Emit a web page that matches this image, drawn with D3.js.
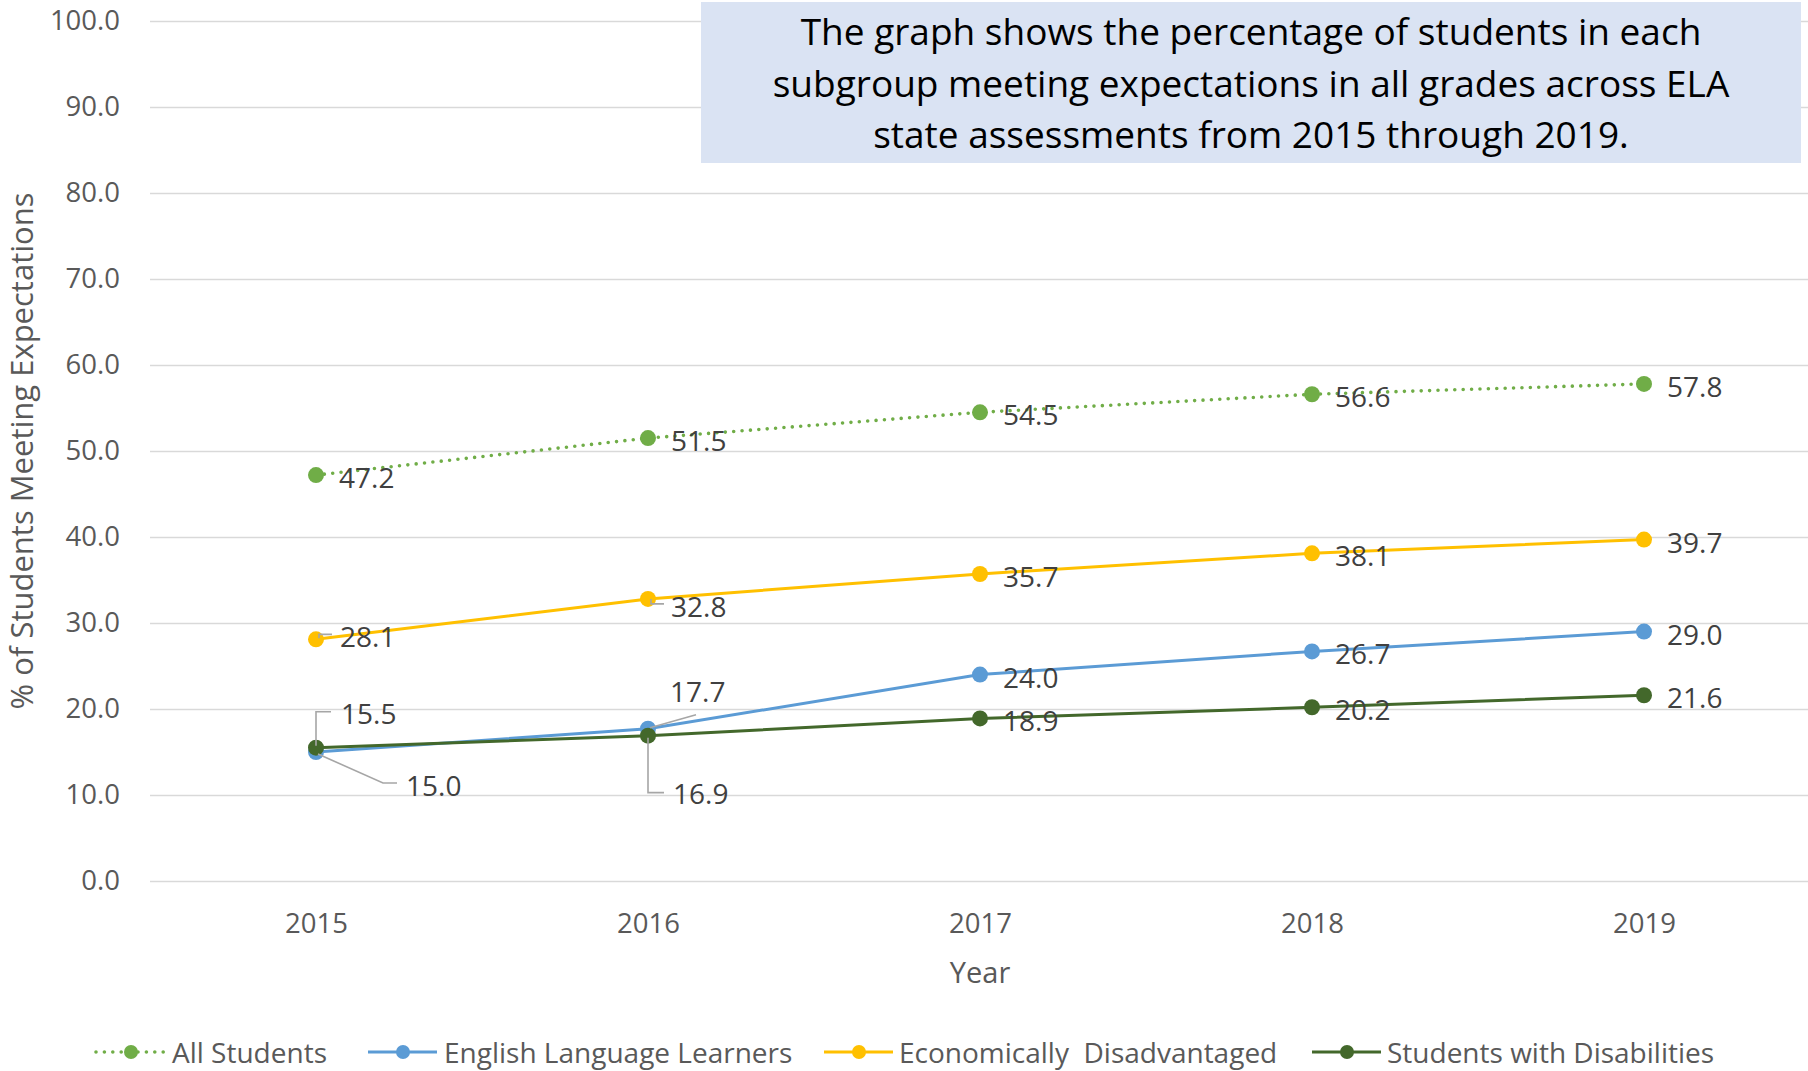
<!DOCTYPE html>
<html>
<head>
<meta charset="utf-8">
<script src="https://cdn.jsdelivr.net/npm/d3@7"></script>
<style>
  html, body { margin: 0; padding: 0; background: #fff; }
  svg { display: block; }
</style>
</head>
<body>
<svg id="chart" width="1808" height="1071"></svg>
<script>
// ---------- data ----------
const years = ["2015", "2016", "2017", "2018", "2019"];
const allStudents = [47.2, 51.5, 54.5, 56.6, 57.8];
const englishLearners = [15.0, 17.7, 24.0, 26.7, 29.0];
const econDisadvantaged = [28.1, 32.8, 35.7, 38.1, 39.7];
const withDisabilities = [15.5, 16.9, 18.9, 20.2, 21.6];
const seriesNames = ["All Students", "English Language Learners", "Economically  Disadvantaged", "Students with Disabilities"];
const yTicks = [0, 10, 20, 30, 40, 50, 60, 70, 80, 90, 100];
const titleLines = [
  "The graph shows the percentage of students in each",
  "subgroup meeting expectations in all grades across ELA",
  "state assessments from 2015 through 2019."
];
const xTitle = "Year";
const yTitle = "% of Students Meeting Expectations";

// ---------- styles ----------
const seriesValues = [allStudents, englishLearners, econDisadvantaged, withDisabilities];
const seriesColors = ["#70AD47", "#5B9BD5", "#FFC000", "#43682B"];
const seriesDotted = [true, false, false, false];
// label placement relative to marker (pixels); default right of marker
const labelDefault = { dx: 23, dy: 2 };
const labelOverrides = {
  "1-0": { dx: 90, dy: 33, leader: [[2, 2], [67, 31], [81, 31]] },
  "1-1": { dx: 22, dy: -38, leader: [[2, -1], [48, -14]] },
  "3-0": { dx: 25, dy: -35, leader: [[0, -2], [0, -36], [15, -36]] },
  "3-1": { dx: 25, dy: 57, leader: [[0, 2], [0, 57], [16, 57]] },
  "2-0": { dx: 24, dy: -3, leader: [[3, -1], [3, -5], [16, -5]] },
  "2-1": { dx: 23, dy: 7, leader: [[3, 0], [3, 5], [16, 5]] }
};

const svg = d3.select("#chart");
const W = 1808;
const plotLeft = 150, plotRight = 1810, plotTop = 21, plotBottom = 881;

const x = d3.scalePoint().domain(years).range([plotLeft, plotRight]).padding(0.5);
const y = d3.scaleLinear().domain([0, 100]).range([plotBottom, plotTop]);

const font = "'Open Sans', 'DejaVu Sans', sans-serif";

// y axis with gridlines
const yAxis = d3.axisLeft(y).tickValues(yTicks).tickFormat(d3.format(".1f"))
  .tickSize(-(W - plotLeft)).tickPadding(30);
const gy = svg.append("g").attr("transform", `translate(${plotLeft},0)`).call(yAxis);
gy.select(".domain").remove();
gy.selectAll(".tick line").attr("stroke", "#D9D9D9").attr("stroke-width", 1.6);
gy.selectAll(".tick text").attr("fill", "#595959").style("font-family", font).style("font-size", "27.5px");

// x axis
const xAxis = d3.axisBottom(x).tickSize(0).tickPadding(32);
const gx = svg.append("g").attr("transform", `translate(0,${plotBottom})`).call(xAxis);
gx.select(".domain").remove();
gx.selectAll(".tick text").attr("fill", "#595959").style("font-family", font).style("font-size", "27.5px");

// axis titles
svg.append("text").attr("x", x("2017")).attr("y", 971).attr("text-anchor", "middle")
  .attr("dominant-baseline", "central").attr("fill", "#595959")
  .style("font-family", font).style("font-size", "29px").text(xTitle);
svg.append("text").attr("transform", "translate(21,451) rotate(-90)").attr("text-anchor", "middle")
  .attr("dominant-baseline", "central").attr("fill", "#595959")
  .style("font-family", font).style("font-size", "31px").text(yTitle);

// title box
const box = svg.append("g");
box.append("rect").attr("x", 701).attr("y", 2).attr("width", 1100).attr("height", 161).attr("fill", "#DAE3F3");
box.selectAll("text").data(titleLines).join("text")
  .attr("x", 1251).attr("y", (d, i) => 45 + i * 51.5).attr("text-anchor", "middle")
  .attr("fill", "#000").style("font-family", font).style("font-size", "37px").text(d => d);

// series lines
const line = d3.line().x((d, i) => x(years[i])).y(d => y(d));
seriesValues.forEach((vals, s) => {
  svg.append("path").datum(vals).attr("d", line).attr("fill", "none")
    .attr("stroke", seriesColors[s]).attr("stroke-width", seriesDotted[s] ? 3.6 : 3)
    .attr("stroke-linecap", seriesDotted[s] ? "round" : "butt")
    .attr("stroke-dasharray", seriesDotted[s] ? "0 8.4" : null);
});

// leader lines
const leaderG = svg.append("g");
seriesValues.forEach((vals, s) => {
  vals.forEach((v, i) => {
    const o = labelOverrides[`${s}-${i}`];
    if (o && o.leader) {
      const cx = x(years[i]), cy = y(v);
      leaderG.append("polyline")
        .attr("points", o.leader.map(p => `${cx + p[0]},${cy + p[1]}`).join(" "))
        .attr("fill", "none").attr("stroke", "#A6A6A6").attr("stroke-width", 1.6);
    }
  });
});

// markers
seriesValues.forEach((vals, s) => {
  svg.append("g").selectAll("circle").data(vals).join("circle")
    .attr("cx", (d, i) => x(years[i])).attr("cy", d => y(d)).attr("r", 8)
    .attr("fill", seriesColors[s]);
});

// leader lines drawn again over markers (as in the reference)
leaderG.raise();

// data labels
seriesValues.forEach((vals, s) => {
  svg.append("g").selectAll("text").data(vals).join("text")
    .attr("x", (d, i) => x(years[i]) + (labelOverrides[`${s}-${i}`] || labelDefault).dx)
    .attr("y", (d, i) => y(d) + (labelOverrides[`${s}-${i}`] || labelDefault).dy)
    .attr("dominant-baseline", "central").attr("fill", "#404040")
    .style("font-family", font).style("font-size", "28px")
    .text(d => d3.format(".1f")(d));
});

// legend
const legendItems = [
  { lx: 96, tx: 172 },
  { lx: 368, tx: 444 },
  { lx: 824, tx: 899 },
  { lx: 1312, tx: 1387 }
];
const ly = 1052;
const lg = svg.append("g");
seriesNames.forEach((name, s) => {
  const it = legendItems[s];
  lg.append("line").attr("x1", it.lx).attr("x2", it.lx + 69).attr("y1", ly).attr("y2", ly)
    .attr("stroke", seriesColors[s]).attr("stroke-width", seriesDotted[s] ? 3.6 : 3)
    .attr("stroke-linecap", seriesDotted[s] ? "round" : "butt")
    .attr("stroke-dasharray", seriesDotted[s] ? "0 8.4" : null);
  lg.append("circle").attr("cx", it.lx + 35).attr("cy", ly).attr("r", 7).attr("fill", seriesColors[s]);
  lg.append("text").attr("x", it.tx).attr("y", ly).attr("dominant-baseline", "central")
    .attr("fill", "#595959").style("font-family", font).style("font-size", "28px")
    .attr("xml:space", "preserve").style("white-space", "pre").text(name);
});
</script>
</body>
</html>
